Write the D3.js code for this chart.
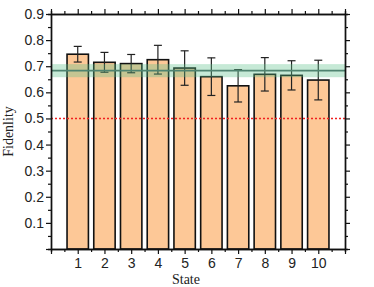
<!DOCTYPE html>
<html>
<head>
<meta charset="utf-8">
<script src="https://cdn.jsdelivr.net/npm/d3@7/dist/d3.min.js"></script>
<style>
  body { margin: 0; background: #fff; }
  svg text { fill: #222; }
</style>
</head>
<body>
<svg id="chart" width="374" height="287"></svg>
<script>
// data
const states = [1, 2, 3, 4, 5, 6, 7, 8, 9, 10];
const fidelity = [0.746, 0.715, 0.710, 0.725, 0.693, 0.660, 0.625, 0.669, 0.665, 0.647];
const errors = [0.030, 0.038, 0.035, 0.055, 0.066, 0.072, 0.062, 0.064, 0.056, 0.076];
const meanLine = 0.683;
const meanBand = 0.025;
const threshold = 0.5;
const yTicks = [0.1, 0.2, 0.3, 0.4, 0.5, 0.6, 0.7, 0.8, 0.9];

const margin = { top: 14, right: 29, bottom: 38, left: 51 };
const width = 374 - margin.left - margin.right;
const height = 287 - margin.top - margin.bottom;

const svg = d3.select("#chart")
  .append("g")
  .attr("transform", "translate(" + margin.left + "," + margin.top + ")");

const x = d3.scaleLinear().domain([0, 11]).range([0, width]);
const y = d3.scaleLinear().domain([0, 0.9]).range([height, 0]);

const data = states.map((s, i) => ({ state: s, value: fidelity[i], err: errors[i] }));
const barW = x(0.8) - x(0);

// bars
svg.selectAll(".bar")
  .data(data)
  .enter()
  .append("rect")
  .attr("class", "bar")
  .attr("x", d => x(d.state) - barW / 2)
  .attr("y", d => y(d.value))
  .attr("width", barW)
  .attr("height", d => height - y(d.value))
  .style("fill", "#fdc897")
  .style("stroke", "#111")
  .style("stroke-width", 1.6);

// error bars
const eb = svg.selectAll(".err").data(data).enter().append("g").attr("class", "err")
  .style("stroke", "#222").style("stroke-width", 1.2);
eb.append("line")
  .attr("x1", d => x(d.state)).attr("x2", d => x(d.state))
  .attr("y1", d => y(d.value + d.err)).attr("y2", d => y(d.value - d.err));
eb.append("line")
  .attr("x1", d => x(d.state) - 4).attr("x2", d => x(d.state) + 4)
  .attr("y1", d => y(d.value + d.err)).attr("y2", d => y(d.value + d.err));
eb.append("line")
  .attr("x1", d => x(d.state) - 4).attr("x2", d => x(d.state) + 4)
  .attr("y1", d => y(d.value - d.err)).attr("y2", d => y(d.value - d.err));

// mean band and line
svg.append("rect")
  .attr("x", 0).attr("width", width)
  .attr("y", y(meanLine + meanBand))
  .attr("height", y(meanLine - meanBand) - y(meanLine + meanBand))
  .style("fill", "#5cc08a").style("opacity", 0.35);
svg.append("line")
  .attr("x1", 0).attr("x2", width)
  .attr("y1", y(meanLine)).attr("y2", y(meanLine))
  .style("stroke", "#4f8370").style("stroke-width", 1.8);

// threshold
svg.append("line")
  .attr("x1", 0).attr("x2", width)
  .attr("y1", y(threshold)).attr("y2", y(threshold))
  .style("stroke", "#f02020").style("stroke-width", 1.4)
  .style("stroke-dasharray", "2,2");

// axes
const xMajor = d3.range(0, 12);
const xMinor = d3.range(0.5, 11, 1);
const yMajor = d3.range(0, 10).map(v => v / 10);
const yMinor = d3.range(0, 9).map(v => v / 10 + 0.05);

function styleAxis(g) {
  g.select(".domain").style("stroke", "#111").style("stroke-width", 1.4);
  g.selectAll(".tick line").style("stroke", "#111").style("stroke-width", 1.2);
  g.selectAll("text").style("font-family", "Liberation Sans, Arial, sans-serif")
    .style("font-size", "14px").style("fill", "#222");
}

svg.append("g").attr("transform", "translate(0," + height + ")")
  .call(d3.axisBottom(x).tickValues(xMinor).tickSize(3).tickFormat(""))
  .call(styleAxis);
svg.append("g").attr("transform", "translate(0," + height + ")")
  .call(d3.axisBottom(x).tickValues(xMajor).tickSize(5).tickSizeOuter(0)
    .tickFormat(d => states.includes(d) ? d : ""))
  .call(styleAxis)
  .selectAll("text").attr("y", 9).attr("dy", "0.71em");

svg.append("g")
  .call(d3.axisTop(x).tickValues(xMinor).tickSize(3).tickFormat(""))
  .call(styleAxis);
svg.append("g")
  .call(d3.axisTop(x).tickValues(xMajor).tickSize(5).tickSizeOuter(0).tickFormat(""))
  .call(styleAxis);

svg.append("g")
  .call(d3.axisLeft(y).tickValues(yMinor).tickSize(3).tickFormat(""))
  .call(styleAxis);
svg.append("g")
  .call(d3.axisLeft(y).tickValues(yMajor).tickSize(5).tickSizeOuter(0)
    .tickFormat(d => yTicks.some(t => Math.abs(t - d) < 1e-9) ? d3.format(".1f")(d) : ""))
  .call(styleAxis)
  .selectAll("text").attr("x", -7);

svg.append("g").attr("transform", "translate(" + width + ",0)")
  .call(d3.axisRight(y).tickValues(yMinor).tickSize(3).tickFormat(""))
  .call(styleAxis);
svg.append("g").attr("transform", "translate(" + width + ",0)")
  .call(d3.axisRight(y).tickValues(yMajor).tickSize(5).tickSizeOuter(0).tickFormat(""))
  .call(styleAxis);

// axis titles
svg.append("text")
  .attr("x", x(5.05))
  .attr("y", height + 35)
  .attr("text-anchor", "middle")
  .style("font-family", "Liberation Serif, Times New Roman, serif")
  .style("font-size", "14px")
  .text("State");

svg.append("text")
  .attr("transform", "rotate(-90)")
  .attr("x", -height / 2)
  .attr("y", -margin.left + 13)
  .attr("text-anchor", "middle")
  .style("font-family", "Liberation Serif, Times New Roman, serif")
  .style("font-size", "14px")
  .text("Fidenlity");
</script>
</body>
</html>
